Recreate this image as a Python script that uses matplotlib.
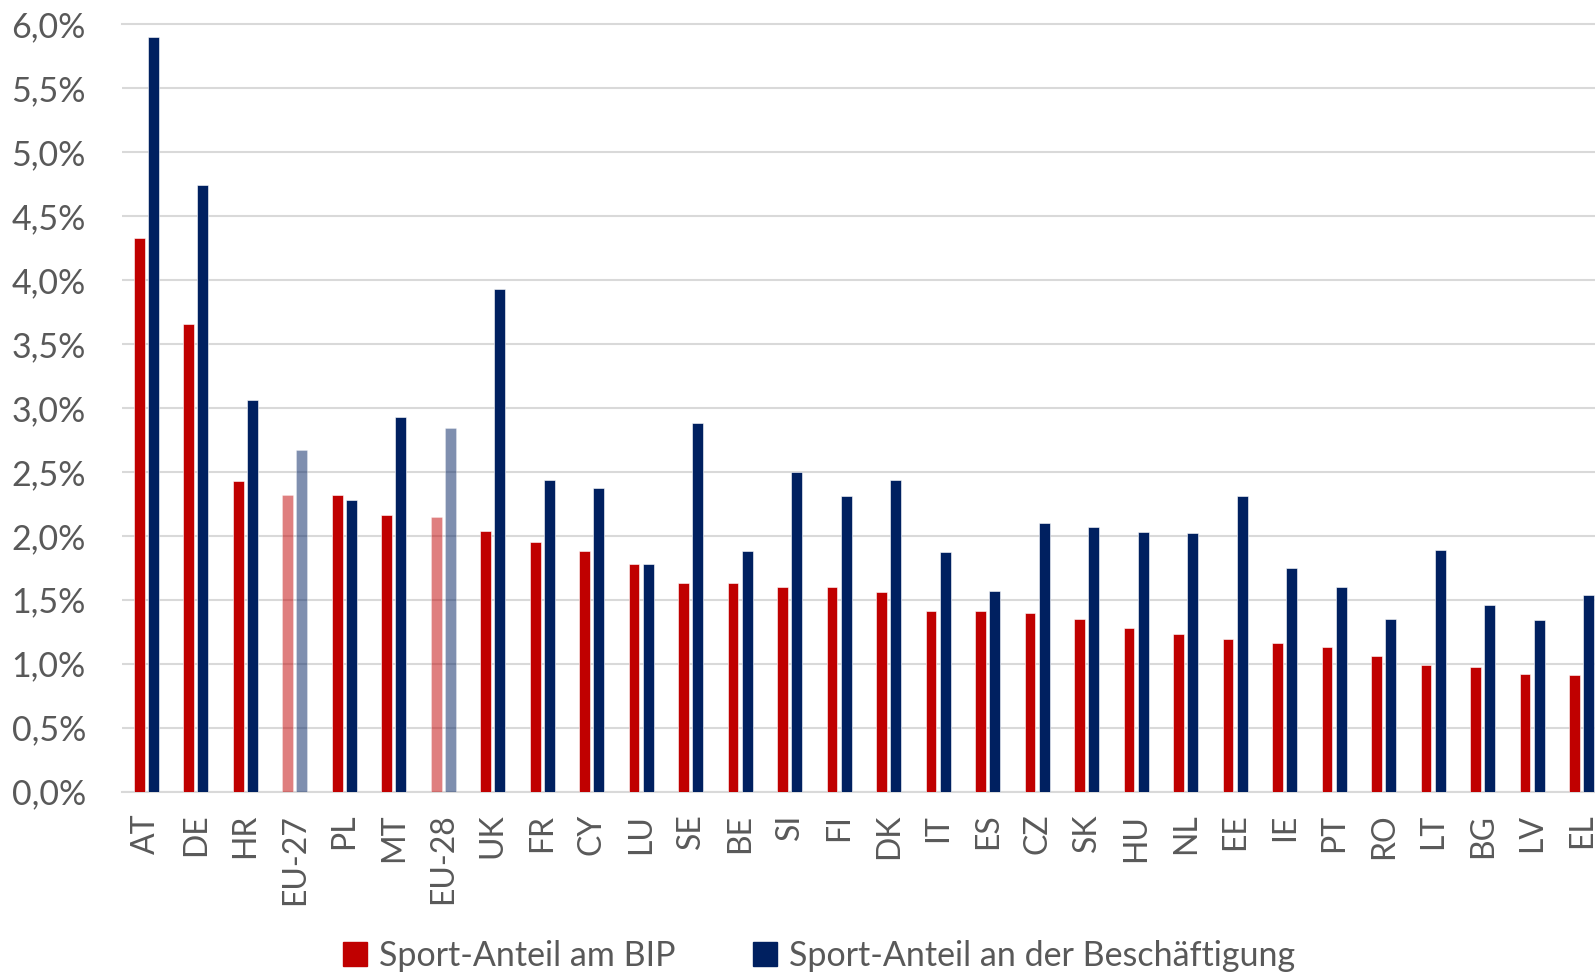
import numpy as np
import matplotlib
matplotlib.use("Agg")
import matplotlib.pyplot as plt
from matplotlib.ticker import FuncFormatter
from matplotlib.patches import Patch

plt.rcParams['font.family'] = ['Lato', 'DejaVu Sans']

# Data (percent)
countries = ['AT', 'DE', 'HR', 'EU-27', 'PL', 'MT', 'EU-28', 'UK', 'FR', 'CY',
             'LU', 'SE', 'BE', 'SI', 'FI', 'DK', 'IT', 'ES', 'CZ', 'SK',
             'HU', 'NL', 'EE', 'IE', 'PT', 'RO', 'LT', 'BG', 'LV', 'EL']
bip = [4.33, 3.66, 2.43, 2.32, 2.32, 2.16, 2.15, 2.04, 1.95, 1.88,
       1.78, 1.63, 1.63, 1.60, 1.60, 1.56, 1.41, 1.41, 1.40, 1.35,
       1.28, 1.23, 1.19, 1.16, 1.13, 1.06, 0.99, 0.97, 0.92, 0.91]
beschaeftigung = [5.90, 4.74, 3.06, 2.67, 2.28, 2.93, 2.84, 3.93, 2.44, 2.37,
                  1.78, 2.88, 1.88, 2.50, 2.31, 2.44, 1.87, 1.57, 2.10, 2.07,
                  2.03, 2.02, 2.31, 1.75, 1.60, 1.35, 1.89, 1.46, 1.34, 1.54]
aggregates = ['EU-27', 'EU-28']

red = '#C00000'
navy = '#002060'
text_col = '#595959'

fig = plt.figure(figsize=(15.95, 9.75), dpi=100)
ax = fig.add_axes([0.0765, 0.1882, 0.9235, 0.975 - 0.1882])

x = np.arange(len(countries))
w = 0.22
off = 0.145
for i, c in enumerate(countries):
    a = 0.5 if c in aggregates else 1.0
    ax.bar(x[i] - off, bip[i], w, color=red, alpha=a, edgecolor='white', linewidth=0.4, zorder=3)
    ax.bar(x[i] + off, beschaeftigung[i], w, color=navy, alpha=a, edgecolor='white', linewidth=0.4, zorder=3)

ax.set_ylim(0, 6.0)
ax.set_xlim(-0.49, len(countries) - 1 + 0.27)
ax.set_yticks(np.arange(0, 6.01, 0.5))
ax.yaxis.set_major_formatter(FuncFormatter(lambda v, p: f'{v:.1f}%'.replace('.', ',')))
ax.set_xticks(x)
ax.set_xticklabels(countries, rotation=90)
ax.tick_params(axis='both', length=0, colors=text_col)
ax.tick_params(axis='y', pad=26, labelsize=24.5)
ax.tick_params(axis='x', pad=16, labelsize=23)

ax.grid(axis='y', color='#D9D9D9', linewidth=1.5, zorder=0)
ax.set_axisbelow(True)
for s in ['top', 'right', 'left']:
    ax.spines[s].set_visible(False)
ax.spines['bottom'].set_color('#D9D9D9')
ax.spines['bottom'].set_linewidth(1.5)
ax.yaxis.get_gridlines()[-1].set_clip_on(False)

handles = [Patch(color=red, label='Sport-Anteil am BIP'),
           Patch(color=navy, label='Sport-Anteil an der Beschäftigung')]
leg = fig.legend(handles=handles, loc='center', bbox_to_anchor=(819 / 1595, 1 - 956 / 975),
                 ncol=2, frameon=False, fontsize=24.5, handlelength=0.7, handleheight=0.7,
                 handletextpad=0.35, columnspacing=2.3)
for t in leg.get_texts():
    t.set_color(text_col)

fig.savefig('out.png', dpi=100)
